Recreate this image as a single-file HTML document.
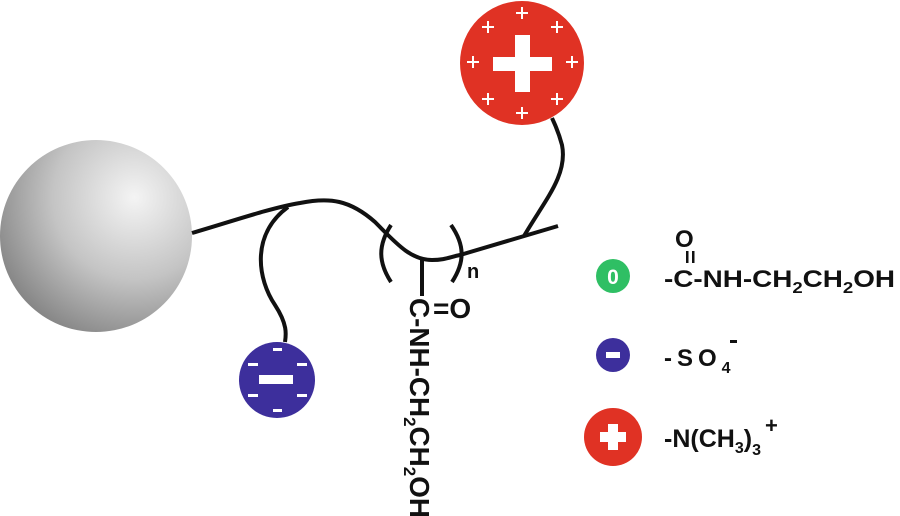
<!DOCTYPE html>
<html><head><meta charset="utf-8"><style>
html,body{margin:0;padding:0;background:#fff;}
svg{display:block;}
text{font-family:"Liberation Sans",Arial,sans-serif;font-weight:bold;fill:#111;}
</style></head><body>
<svg width="900" height="516" viewBox="0 0 900 516" xmlns="http://www.w3.org/2000/svg">
<defs>
<radialGradient id="g" cx="0.7" cy="0.3" r="0.85" fx="0.7" fy="0.3">
<stop offset="0" stop-color="#f4f4f4"/>
<stop offset="0.5" stop-color="#c4c4c4"/>
<stop offset="1" stop-color="#7a7a7a"/>
</radialGradient>
</defs>
<circle cx="96" cy="236" r="96" fill="url(#g)"/>
<g fill="none" stroke="#111" stroke-width="4" stroke-linecap="butt">
<path d="M192 233 C230 222 270 208 300 203 C330 197 350 200 375 222 C395 242 410 260 432 260 C445 260 450 257 460 255 L558 226"/>
<path d="M288 207 C250 235 258 280 275 305 C288 325 286 335 285 342"/>
<path d="M524 236 C545 200 568 175 562 145 C558 130 555 125 552 118"/>
<path d="M391 225 C378 245 378 262 391 282"/>
<path d="M451 225 C465 245 465 262 452 282"/>
<path d="M422 259 L422 296"/>
</g>
<circle cx="522" cy="63" r="62" fill="#e03224"/>
<g fill="#fff">
<rect x="493" y="57" width="59" height="14"/>
<rect x="515" y="35" width="15" height="57"/>
</g>
<g stroke="#fff" stroke-width="2">
<path d="M516 13h12M522 7v12"/><path d="M516 113h12M522 107v12"/>
<path d="M467 62h12M473 56v12"/><path d="M566 62h12M572 56v12"/>
<path d="M482 27h12M488 21v12"/><path d="M551 27h12M557 21v12"/>
<path d="M482 99h12M488 93v12"/><path d="M551 99h12M557 93v12"/>
</g>
<circle cx="277" cy="380" r="38" fill="#3d2f9c"/>
<g fill="#fff">
<rect x="259" y="375" width="34" height="9"/>
<rect x="273" y="348" width="9" height="3"/><rect x="273" y="409" width="9" height="3"/>
<rect x="248" y="363" width="10" height="3"/><rect x="297" y="363" width="10" height="3"/>
<rect x="248" y="394" width="10" height="3"/><rect x="297" y="394" width="10" height="3"/>
</g>
<text x="467" y="278" font-size="20" font-weight="normal">n</text>
<text transform="translate(410,298) rotate(90)" font-size="28" textLength="220" lengthAdjust="spacingAndGlyphs">C-NH-CH<tspan font-size="17" dy="6">2</tspan><tspan dy="-6">CH</tspan><tspan font-size="17" dy="6">2</tspan><tspan dy="-6">OH</tspan></text>
<text x="433" y="318" font-size="28">=O</text>
<circle cx="613" cy="276" r="17" fill="#2fbf64"/>
<text x="613" y="284" font-size="21" text-anchor="middle" style="fill:#fff">0</text>
<circle cx="613" cy="355" r="17" fill="#3d2f9c"/>
<rect x="606" y="352" width="14" height="6" fill="#fff"/>
<circle cx="613" cy="437" r="29" fill="#e03224"/>
<rect x="600" y="432" width="26" height="10" fill="#fff"/>
<rect x="608" y="424" width="10" height="26" fill="#fff"/>
<text x="675" y="247" font-size="24">O</text>
<rect x="686" y="251" width="2.5" height="12" fill="#111"/><rect x="692" y="251" width="2.5" height="12" fill="#111"/>
<text x="664" y="287" font-size="24" textLength="231" lengthAdjust="spacingAndGlyphs">-C-NH-CH<tspan font-size="16" dy="6">2</tspan><tspan dy="-6">CH</tspan><tspan font-size="16" dy="6">2</tspan><tspan dy="-6">OH</tspan></text>
<text x="664" y="366" font-size="24" letter-spacing="5">-SO<tspan font-size="16" dy="7" letter-spacing="0">4</tspan></text>
<rect x="730" y="340" width="7" height="3" fill="#111"/>
<text x="664" y="447" font-size="25">-N(CH<tspan font-size="16" dy="6">3</tspan><tspan dy="-6">)</tspan><tspan font-size="16" dy="8">3</tspan></text>
<text x="765" y="433" font-size="22">+</text>
</svg>
</body></html>
